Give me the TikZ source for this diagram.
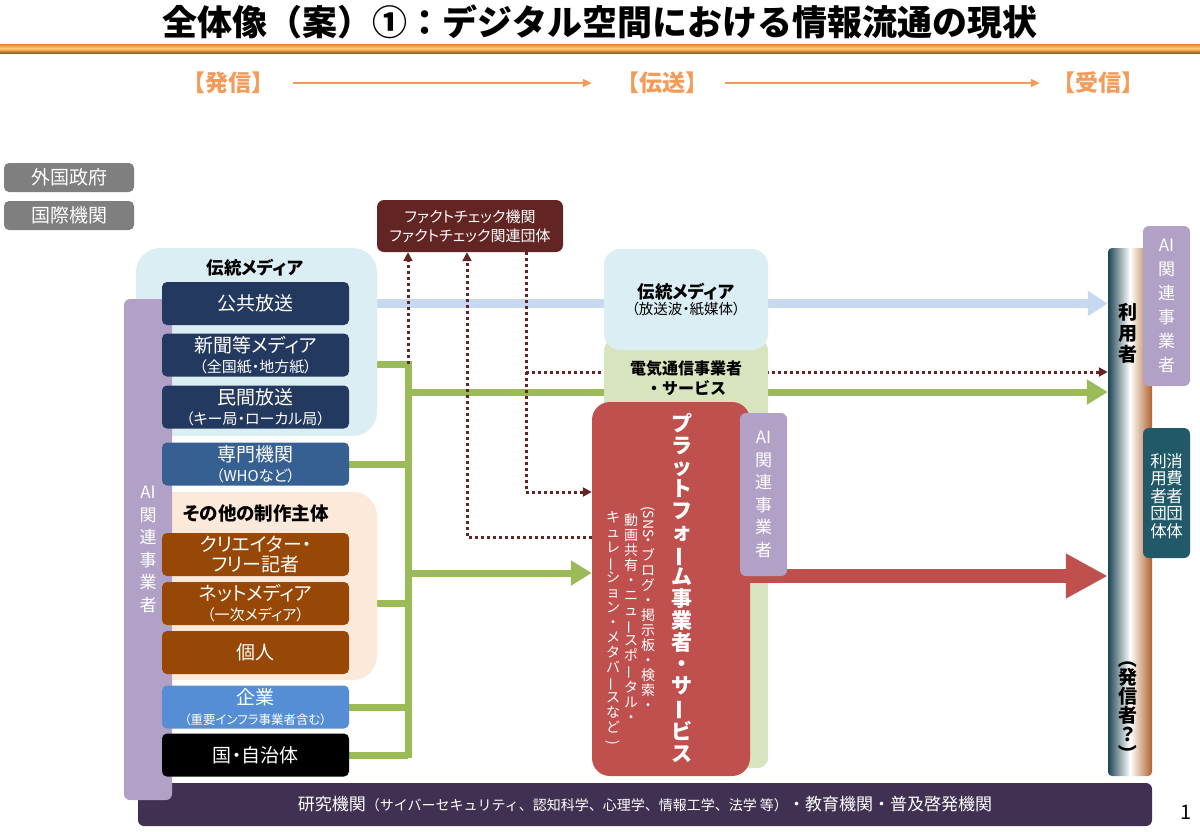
\documentclass[tikz,border=0pt]{standalone}
\usepackage{fontspec}
\setmainfont{Noto Sans CJK JP}
\newfontfamily\pfont{Noto Sans CJK JP}[RawFeature=+palt]
\usepackage{graphicx}
\usetikzlibrary{arrows.meta,positioning}
\pgfdeclarelayer{back}
\pgfsetlayers{back,main}

\definecolor{navy}{RGB}{36,57,95}
\definecolor{midblue}{RGB}{55,96,146}
\definecolor{corpblue}{RGB}{85,142,213}
\definecolor{paleblue}{RGB}{219,238,244}
\definecolor{peach}{RGB}{253,233,217}
\definecolor{srcbrown}{RGB}{151,72,6}
\definecolor{aipurple}{RGB}{178,161,199}
\definecolor{respurple}{RGB}{64,49,82}
\definecolor{factred}{RGB}{99,37,35}
\definecolor{platred}{RGB}{192,80,77}
\definecolor{arrgreen}{RGB}{155,187,89}
\definecolor{palegreen}{RGB}{215,228,189}
\definecolor{arrblue}{RGB}{198,217,241}
\definecolor{consteal}{RGB}{33,89,104}
\definecolor{hdorange}{RGB}{245,155,90}
\definecolor{boxgray}{RGB}{127,127,127}
\definecolor{barA}{RGB}{222,135,40}
\definecolor{barB}{RGB}{250,210,120}
\definecolor{barC}{RGB}{160,90,30}
\definecolor{userL}{RGB}{30,70,85}
\definecolor{userR}{RGB}{175,100,45}

\newcommand{\vlong}{\rotatebox[origin=c]{90}{ー}}
\newcommand{\subtxt}[1]{{\fontsize{15}{18}\selectfont #1}}

\tikzset{
	src/.style={rounded corners=5pt, minimum width=187pt, minimum height=43pt, inner sep=0pt,
		align=center, text=white, font=\pfont\fontsize{19}{20}\selectfont},
	grp/.style={rounded corners=24pt, inner sep=0pt},
	graybox/.style={fill=boxgray, rounded corners=5pt, minimum width=130pt, minimum height=29pt,
		inner sep=0pt, text=white, font=\pfont\fontsize{19}{20}\selectfont},
	aibox/.style={fill=aipurple, rounded corners=6pt, minimum width=47pt, inner sep=0pt,
		align=center, text=white, font=\fontsize{17}{22.5}\selectfont},
	vt/.style={align=center, inner sep=0pt},
	hdr/.style={text=hdorange, inner sep=0pt, font=\bfseries\fontsize{23}{26}\selectfont},
	hdrarrow/.style={hdorange, line width=1.6pt, -{Triangle[length=9pt,width=8pt]}},
	gline/.style={arrgreen, line width=7pt},
	garrow/.style={gline, -{Triangle[length=21pt,width=24pt]}},
	dotline/.style={factred, line width=3pt, dash pattern=on 3pt off 3pt},
	dotarrow/.style={dotline, -{Triangle[length=9pt,width=9pt]}},
}

\begin{document}
\begin{tikzpicture}[x=1pt,y=-1pt]
	\useasboundingbox (0,0) rectangle (1200,831);
	
	% title
	\node[font=\bfseries\fontsize{35}{38}\selectfont] (title) at (600,22) {全体像（案）①：デジタル空間における情報流通の現状};
	\shade[top color=barA, bottom color=barC, middle color=barB] (0,44) rectangle (1200,53);
	
	\node[hdr] (send) at (228,83) {【発信】};
	\node[hdr] (trans) at (662,83) {【伝送】};
	\node[hdr] (recv) at (1098,83) {【受信】};
	\draw[hdrarrow, shorten <=19pt, shorten >=24pt] (send) -- (trans);
	\draw[hdrarrow, shorten <=17pt, shorten >=12pt] (trans) -- (recv);
	
	\node[graybox] (foreign) at (69,177.5) {外国政府};
	\node[graybox] (intl) at (69,215.5) {国際機関};
	
	\node[fill=factred, rounded corners=7pt, minimum width=186pt, minimum height=52pt, inner sep=0pt,
		align=center, text=white, font=\pfont\fontsize{15}{19}\selectfont] (fact) at (470,226)
		{ファクトチェック機関\\ファクトチェック関連団体};
	
	% groups
	\node[grp, fill=paleblue, minimum width=241pt, minimum height=188pt] (trad) at (256.5,342) {};
	\node[font=\pfont\bfseries\fontsize{17.5}{19}\selectfont] (tradlbl) at (255,268) {伝統メディア};
	\node[grp, fill=peach, minimum width=237pt, minimum height=188pt] (other) at (258.5,586) {};
	\node[font=\pfont\bfseries\fontsize{18.5}{20}\selectfont] (otherlbl) at (256,513) {その他の制作主体};
	
	\node[fill=respurple, rounded corners=6pt, minimum width=1014pt, minimum height=43pt, inner sep=0pt,
		text=white, font=\fontsize{17}{19}\selectfont] (res) at (645,804.5)
		{研究機関{\fontsize{14}{16}\selectfont（サイバーセキュリティ、認知科学、心理学、情報工学、法学 等）}・教育機関・普及啓発機関};
	\node[aibox, minimum width=48pt, minimum height=501pt] (aileft) at (148,549.5) {AI\\関\\連\\事\\業\\者};
	
	% senders
	\node[src, fill=navy] (pub) at (255.5,303.5) {公共放送};
	\node[src, fill=navy] (paper) at (255.5,355) {新聞等メディア\\\subtxt{（全国紙・地方紙）}};
	\node[src, fill=navy] (priv) at (255.5,407) {民間放送\\\subtxt{（キー局・ローカル局）}};
	\node[src, fill=midblue] (expert) at (255.5,464) {専門機関\\\subtxt{（WHOなど）}};
	\node[src, fill=srcbrown] (creator) at (255.5,554.5) {クリエイター・\\フリー記者};
	\node[src, fill=srcbrown] (netm) at (255.5,603.5) {ネットメディア\\\subtxt{（一次メディア）}};
	\node[src, fill=srcbrown] (indiv) at (255.5,652.5) {個人};
	\node[src, fill=corpblue] (corp) at (255.5,707) {企業\\{\fontsize{12.5}{14}\selectfont（重要インフラ事業者含む）}};
	\node[src, fill=black] (state) at (255.5,755) {国・自治体};
	
	% receivers
	\node[minimum width=44pt, minimum height=528pt, rounded corners=4pt, inner sep=0pt,
		left color=userL, right color=userR, middle color=white] (user) at (1130,512) {};
	\node[vt, font=\bfseries\fontsize{19}{21}\selectfont] (userlbl) at (1128,333) {利\\用\\者};
	\node[vt, font=\bfseries\fontsize{19}{19}\selectfont] (senderq) at (1128,706)
		{\rotatebox[origin=c]{-90}{（}\\発\\信\\者\\？\\\rotatebox[origin=c]{-90}{）}};
	\node[aibox, minimum height=160pt, font=\fontsize{17}{24}\selectfont] (airight) at (1166.5,306) {AI\\関\\連\\事\\業\\者};
	\node[fill=consteal, rounded corners=6pt, minimum width=47pt, minimum height=130pt] (cons) at (1166.5,493) {};
	\node[vt, text=white, font=\fontsize{16.5}{17.5}\selectfont] (conslbl) at ([xshift=8pt,yshift=-3pt]cons.center) {消\\費\\者\\団\\体};
	\node[vt, text=white, font=\fontsize{16.5}{17.5}\selectfont] (usrglbl) at ([xshift=-8pt,yshift=-3pt]cons.center) {利\\用\\者\\団\\体};
	
	% transmission
	\node[fill=palegreen, rounded corners=10pt, minimum width=164pt, minimum height=428pt] (telecom) at (686,554) {};
	\node[fill=paleblue, rounded corners=16pt, minimum width=164pt, minimum height=101pt, align=center, inner sep=0pt] (tradc) at (686,299.5)
		{{\pfont\bfseries\fontsize{17.5}{19}\selectfont 伝統メディア}\\{\pfont\fontsize{14.5}{16}\selectfont （放送波・紙媒体）}};
	\node[vt, font=\bfseries\fontsize{16}{20}\selectfont] (telelbl) at (686,378) {電気通信事業者\\・サービス};
	\node[fill=platred, rounded corners=18pt, minimum width=158pt, minimum height=374pt] (plat) at (671,589) {};
	\node[vt, text=white, font=\bfseries\fontsize{21}{21.7}\selectfont] (platlbl) at (682,588)
		{プ\\ラ\\ッ\\ト\\フ\\ォ\\\vlong\\ム\\事\\業\\者\\・\\サ\\\vlong\\ビ\\ス};
	\node[vt, anchor=north, text=white, font=\fontsize{14}{15}\selectfont] (platsubA) at (648,506)
		{\rotatebox[origin=c]{-90}{(SNS}\\・\\ブ\\ロ\\グ\\・\\掲\\示\\板\\・\\検\\索\\・};
	\node[vt, anchor=north, text=white, font=\fontsize{14}{15}\selectfont] (platsubB) at (631,514)
		{動\\画\\共\\有\\・\\ニ\\ュ\\\vlong\\ス\\ポ\\\vlong\\タ\\ル\\・};
	\node[vt, anchor=north, text=white, font=\fontsize{14}{15}\selectfont] (platsubC) at (613,511)
		{キ\\ュ\\レ\\\vlong\\シ\\ョ\\ン\\・\\メ\\タ\\バ\\\vlong\\ス\\な\\ど\\\rotatebox[origin=c]{-90}{)}};
	\coordinate (ry) at (0,576);
	\draw[platred, line width=14pt, -{Triangle[length=42pt,width=42pt]}] (plat.east |- ry) -- (user.west |- ry);
	\node[aibox, minimum height=163pt] (aimid) at (763.5,494.5) {AI\\関\\連\\事\\業\\者};
	
	\node[font=\fontsize{20}{22}\selectfont] (pgnum) at (1186,812) {1};
	
	% connectors behind the boxes
	\begin{pgfonlayer}{back}
		\draw[arrblue, line width=9pt, -{Triangle[length=20pt,width=24pt]}] (pub.east) -- (pub.east -| user.west);
		\coordinate (tj) at (408,364);
		\coordinate (tb) at (408,758);
		\coordinate (tg) at (408,392);
		\coordinate (tp) at (408,573);
		\draw[gline] (tj -| trad.east) -- (tj) -- (tb);
		\draw[gline] (expert.east) -- (expert.east -| tj);
		\draw[gline] (other.east |- netm) -- (netm -| tj);
		\draw[gline] (corp.east) -- (corp.east -| tj);
		\draw[gline] (state.east) -- (state.east -| tj);
		\draw[garrow] (tg) -- (tg -| user.west);
		\draw[garrow] (tp) -- (tp -| plat.west);
		% fact check
		\coordinate (d2) at (467,537);
		\coordinate (d3) at (526,492);
		\coordinate (d4) at (526,372);
		\draw[dotarrow] (tj) -- (tj |- fact.south);
		\draw[dotarrow] (d2 -| plat.west) -- (d2) -- (d2 |- fact.south);
		\draw[dotarrow] (d3 |- fact.south) -- (d3) -- (d3 -| plat.west);
		\draw[dotarrow] (d4) -- (d4 -| user.west);
	\end{pgfonlayer}
\end{tikzpicture}
\end{document}
